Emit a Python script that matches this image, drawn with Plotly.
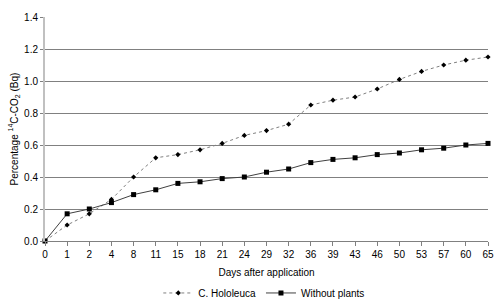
import plotly.graph_objects as go

days = ["0", "1", "2", "4", "8", "11", "15", "18", "21", "24", "29", "32",
        "36", "39", "43", "46", "50", "53", "57", "60", "65"]
hololeuca = [0.00, 0.10, 0.17, 0.26, 0.40, 0.52, 0.54, 0.57, 0.61, 0.66, 0.69, 0.73,
             0.85, 0.88, 0.90, 0.95, 1.01, 1.06, 1.10, 1.13, 1.15]
without_plants = [0.00, 0.17, 0.20, 0.24, 0.29, 0.32, 0.36, 0.37, 0.39, 0.40, 0.43, 0.45,
                  0.49, 0.51, 0.52, 0.54, 0.55, 0.57, 0.58, 0.60, 0.61]
y_ticks = [0.0, 0.2, 0.4, 0.6, 0.8, 1.0, 1.2, 1.4]

font = "Liberation Sans, Arial, sans-serif"

fig = go.Figure()
fig.add_trace(go.Scatter(
    x=days, y=hololeuca, name="C. Hololeuca", mode="lines+markers",
    line=dict(color="#808080", width=1, dash="dot"),
    marker=dict(color="#000000", size=4, symbol="diamond"),
    cliponaxis=False,
))
fig.add_trace(go.Scatter(
    x=days, y=without_plants, name="Without plants", mode="lines+markers",
    line=dict(color="#404040", width=1),
    marker=dict(color="#000000", size=5, symbol="square"),
    cliponaxis=False,
))

fig.update_layout(
    width=500, height=308,
    margin=dict(l=45, r=12, t=17, b=67, autoexpand=False),
    paper_bgcolor="white", plot_bgcolor="white",
    font=dict(family=font, size=10, color="#000000"),
    showlegend=True,
    legend=dict(orientation="h", x=0.495, xanchor="center", y=-0.232, yanchor="middle",
                font=dict(size=10), bgcolor="rgba(0,0,0,0)"),
    xaxis=dict(
        type="category", range=[0, len(days) - 1], automargin=False,
        showgrid=False, showline=True, linecolor="#808080", linewidth=1,
        ticks="outside", ticklen=4, tickcolor="#808080",
        tickfont=dict(size=10),
        title=dict(text="Days after application", font=dict(size=10), standoff=9),
        zeroline=False,
    ),
    yaxis=dict(
        range=[0, 1.4], tickvals=y_ticks, tickformat=".1f", automargin=False,
        showgrid=True, gridcolor="#808080", gridwidth=1,
        showline=True, linecolor="#c0c0c0", linewidth=2,
        ticks="outside", ticklen=3, tickcolor="#808080",
        tickfont=dict(size=10),
        title=dict(text="Percentage <sup>14</sup>C-CO<sub>2</sub> (Bq)",
                   font=dict(size=10), standoff=4),
        zeroline=False,
    ),
)

fig.write_html("out.html", config={"displayModeBar": False},
               post_script="document.body.style.margin='0';")
